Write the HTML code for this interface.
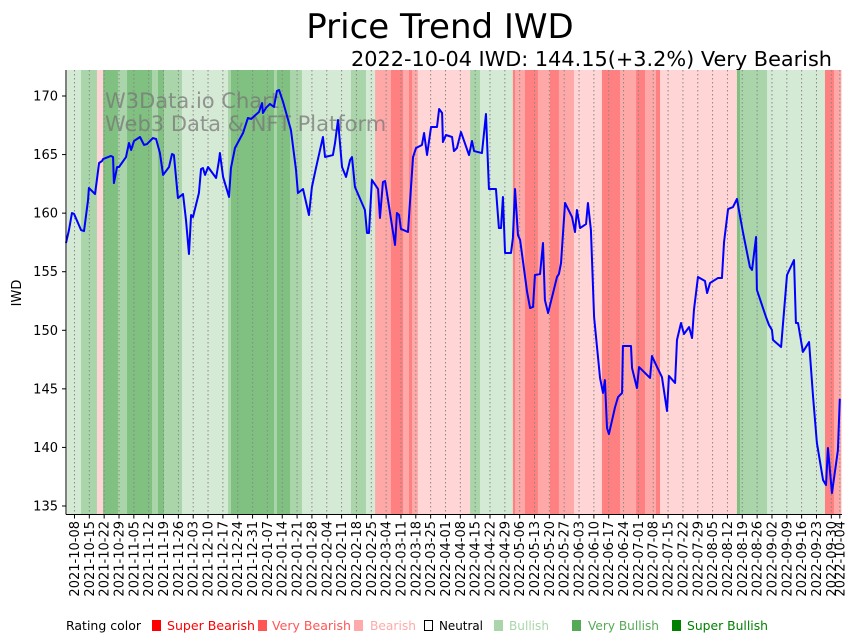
<!DOCTYPE html>
<html><head><meta charset="utf-8"><style>
html,body{margin:0;padding:0;background:#fff;}
svg{display:block;font-family:"DejaVu Sans","Liberation Sans",sans-serif;}
</style></head><body>
<svg id="chart" width="860" height="641" viewBox="0 0 860 641" xmlns="http://www.w3.org/2000/svg">
<text x="440" y="38" font-size="34" text-anchor="middle" fill="#000">Price Trend IWD</text>
<text x="832" y="66" font-size="20" text-anchor="end" fill="#000" textLength="481" lengthAdjust="spacingAndGlyphs">2022-10-04 IWD: 144.15(+3.2%) Very Bearish</text>
<g id="bands"></g>
<g id="grid"></g>
<text x="105" y="108" font-size="21" fill="#777" fill-opacity="0.75">W3Data.io Chart</text>
<text x="105" y="131" font-size="21" fill="#777" fill-opacity="0.75">Web3 Data &amp; NFT Platform</text>
<path id="line" fill="none" stroke="#0000ff" stroke-width="2" stroke-linejoin="round"/>
<line x1="66" y1="70" x2="66" y2="514.5" stroke="#000" stroke-width="1"/>
<line x1="66" y1="514.5" x2="842" y2="514.5" stroke="#000" stroke-width="1"/>
<g id="yticks"></g>
<g id="xticks"></g>
<text transform="translate(21,293) rotate(-90)" font-size="13" text-anchor="middle">IWD</text>
<g font-size="12.5">
<text x="66" y="630" fill="#000" textLength="75" lengthAdjust="spacingAndGlyphs">Rating color</text>
<rect x="152" y="620" width="9" height="11" fill="#ff0000"/>
<text x="167" y="630" fill="#ff0000" textLength="88" lengthAdjust="spacingAndGlyphs">Super Bearish</text>
<rect x="258" y="620" width="9" height="11" fill="#ff5555"/>
<text x="272" y="630" fill="#ff5555" textLength="79" lengthAdjust="spacingAndGlyphs">Very Bearish</text>
<rect x="354" y="620" width="9" height="11" fill="#ffaaaa"/>
<text x="370" y="630" fill="#ffaaaa" textLength="46" lengthAdjust="spacingAndGlyphs">Bearish</text>
<rect x="424.5" y="620.5" width="8" height="10" fill="#fff" stroke="#000"/>
<text x="439" y="630" fill="#000" textLength="44" lengthAdjust="spacingAndGlyphs">Neutral</text>
<rect x="494" y="620" width="9" height="11" fill="#aad5aa"/>
<text x="509" y="630" fill="#aad5aa" textLength="40" lengthAdjust="spacingAndGlyphs">Bullish</text>
<rect x="572" y="620" width="9" height="11" fill="#55aa55"/>
<text x="588" y="630" fill="#55aa55" textLength="71" lengthAdjust="spacingAndGlyphs">Very Bullish</text>
<rect x="672" y="620" width="9" height="11" fill="#008000"/>
<text x="687" y="630" fill="#008000" textLength="81" lengthAdjust="spacingAndGlyphs">Super Bullish</text>
</g>
</svg>
<script>
// day offsets from 2021-10-04
const priceDays = [0,1.4,2.8,3.8,7.1,8.5,10.4,10.8,13.7,15.6,17.0,17.5,21.2,22.2,22.6,24.1,25.0,28.3,29.7,30.7,32.1,34.9,36.8,38.2,41.0,42.5,44.3,45.8,48.6,50.0,50.9,52.8,55.2,56.6,58.0,59.0,59.9,62.7,63.7,64.6,65.6,67.0,70.8,72.2,72.6,74.1,76.9,77.8,79.7,83.5,85.8,87.3,91.0,92.5,92.9,94.3,96.2,98.1,99.5,100.5,102.4,106.1,108.5,109.4,111.8,114.6,116.0,117.9,121.2,122.2,125.9,126.9,128.3,130.2,132.1,134.0,134.9,136.3,141.0,142.0,142.9,144.3,147.2,148.1,149.5,150.5,155.2,156.1,157.1,158.0,161.3,163.7,165.1,167.9,168.9,170.3,172.2,175.0,176.0,177.4,177.8,179.2,182.1,183.0,184.4,186.3,190.1,191.5,192.5,196.2,198.1,199.5,202.8,204.2,205.2,206.1,207.1,209.9,210.8,211.8,213.2,214.2,217.5,218.9,220.3,221.2,223.6,225.0,225.9,227.4,231.6,232.5,233.5,235.4,238.7,240.1,241.0,242.5,245.3,246.2,247.6,249.1,251.9,253.3,254.2,255.2,256.1,259.0,260.4,262.3,262.7,266.5,267.0,269.3,270.3,275.5,276.4,278.8,281.1,283.5,284.4,287.3,288.2,290.1,291.5,293.9,295.3,296.2,298.1,301.4,302.4,303.8,307.5,309.4,310.4,312.3,314.6,316.5,317.5,319.3,322.6,323.6,325.5,325.9,330.2,331.6,333.0,333.5,337.3,340.1,343.4,344.3,345.3,347.6,350.5,352.4,354.2,357.1,358.5,359.4,361.3,364.1,365];
const priceValues = [157.45,158.56,160.01,159.93,158.56,158.47,161.12,162.15,161.63,164.28,164.45,164.62,164.88,164.79,162.57,163.94,163.94,164.79,165.99,165.39,166.16,166.50,165.82,165.90,166.41,166.33,165.13,163.26,163.94,165.05,164.96,161.29,161.63,159.41,156.51,159.84,159.67,161.72,163.77,163.85,163.26,163.94,163.00,164.54,165.13,163.09,161.38,163.85,165.56,166.84,168.12,168.04,168.63,169.40,168.55,168.98,169.32,169.06,170.43,170.51,169.49,167.10,163.68,161.72,162.06,159.84,162.23,163.85,166.50,164.79,164.96,165.99,167.95,163.94,163.09,164.54,164.79,162.23,160.27,158.30,158.30,162.83,162.06,159.59,162.66,162.74,157.28,160.01,159.84,158.65,158.39,164.79,165.56,165.82,166.84,164.96,167.35,167.35,168.89,168.55,166.07,166.67,166.50,165.30,165.56,166.93,164.96,166.16,165.30,165.13,168.46,162.06,162.06,158.73,158.73,161.38,156.60,156.60,157.88,162.06,158.13,157.71,153.27,151.90,151.99,154.72,154.80,157.45,152.58,151.47,154.55,154.80,155.74,160.87,159.67,158.39,160.27,158.73,159.07,160.87,158.56,151.13,145.93,144.65,145.75,141.66,141.14,143.45,144.30,144.65,148.66,148.66,146.78,145.07,146.86,145.93,147.80,146.86,146.01,143.11,146.10,145.50,149.17,150.62,149.68,150.28,149.34,151.73,154.55,154.21,153.18,154.04,154.46,154.46,157.54,160.35,160.52,161.21,160.18,158.39,155.40,155.15,157.96,153.44,151.13,150.45,150.02,149.17,148.57,154.72,156.00,150.62,150.62,148.15,149.00,144.30,140.38,137.22,136.79,139.95,136.11,139.75,144.15];
const bandStarts = [0.5,7.1,14.6,17.5,24.5,28.8,40.6,43.4,46.2,54.7,76.4,77.8,98.1,99.5,105.7,111.3,134.4,141.5,145.8,153.3,159.0,161.8,163.2,166.0,190.6,195.3,210.8,211.8,216.5,222.6,228.3,232.5,239.6,252.8,261.3,268.9,273.1,278.3,280.2,316.5,317.9,330.7,358.0,362.3];
const bandEnds = [7.1,14.6,17.5,24.5,28.8,40.6,43.4,46.2,54.7,76.4,77.8,98.1,99.5,105.7,111.3,134.4,141.5,145.8,153.3,159.0,161.8,163.2,166.0,190.6,195.3,210.8,211.8,216.5,222.6,228.3,232.5,239.6,252.8,261.3,268.9,273.1,278.3,280.2,316.5,317.9,330.7,358.0,362.3,365.6];
const bandRatings = [1,2,-1,3,2,3,2,3,2,1,2,3,2,3,2,1,2,1,-2,-3,-2,-3,-2,-1,2,1,-3,-2,-3,-2,-3,-2,-1,-3,-2,-3,-2,-3,-1,3,2,1,-3,-2];
const xTickLabels = ["2021-10-08","2021-10-15","2021-10-22","2021-10-29","2021-11-05","2021-11-12","2021-11-19","2021-11-26","2021-12-03","2021-12-10","2021-12-17","2021-12-24","2021-12-31","2022-01-07","2022-01-14","2022-01-21","2022-01-28","2022-02-04","2022-02-11","2022-02-18","2022-02-25","2022-03-04","2022-03-11","2022-03-18","2022-03-25","2022-04-01","2022-04-08","2022-04-15","2022-04-22","2022-04-29","2022-05-06","2022-05-13","2022-05-20","2022-05-27","2022-06-03","2022-06-10","2022-06-17","2022-06-24","2022-07-01","2022-07-08","2022-07-15","2022-07-22","2022-07-29","2022-08-05","2022-08-12","2022-08-19","2022-08-26","2022-09-02","2022-09-09","2022-09-16","2022-09-23","2022-09-30","2022-10-04"];
const yTickValues = [135,140,145,150,155,160,165,170];

const NS = "http://www.w3.org/2000/svg";
const startMs = Date.UTC(2021,9,4);
function xScale(d){ return 66 + d*2.12; }
function yScale(v){ return 96 + (170 - v)*11.714; }
function dayOf(s){ const p=s.split("-"); return (Date.UTC(+p[0],+p[1]-1,+p[2])-startMs)/86400000; }
const ratingColors = {"-3":"#ff8080","-2":"#ffa8a8","-1":"#ffd5d5","1":"#d5ead5","2":"#aad5aa","3":"#80c080"};

const bandsG = document.getElementById("bands");
for(let i=0;i<bandStarts.length;i++){
  const r=document.createElementNS(NS,"rect");
  const x0=xScale(bandStarts[i]), x1=xScale(bandEnds[i]);
  r.setAttribute("x",x0); r.setAttribute("y",70);
  r.setAttribute("width",Math.max(0,x1-x0)+0.3); r.setAttribute("height",444);
  r.setAttribute("fill",ratingColors[String(bandRatings[i])]);
  
  
  bandsG.appendChild(r);
}
const gridG=document.getElementById("grid"), xtG=document.getElementById("xticks");
xTickLabels.forEach(lbl=>{
  const x=xScale(dayOf(lbl));
  const g=document.createElementNS(NS,"line");
  g.setAttribute("x1",x);g.setAttribute("x2",x);g.setAttribute("y1",70);g.setAttribute("y2",514);
  g.setAttribute("stroke","#888");g.setAttribute("stroke-width","1");g.setAttribute("stroke-dasharray","1.5,2.5");
  
  
  gridG.appendChild(g);
  const t=document.createElementNS(NS,"line");
  t.setAttribute("x1",x);t.setAttribute("x2",x);t.setAttribute("y1",514.5);t.setAttribute("y2",518.5);t.setAttribute("stroke","#000");
  
  
  xtG.appendChild(t);
  const tx=document.createElementNS(NS,"text");
  tx.setAttribute("transform","translate("+(x+4.5)+",521) rotate(-90)");
  tx.setAttribute("text-anchor","end"); tx.setAttribute("font-size","13");
  tx.textContent=lbl;
  
  
  xtG.appendChild(tx);
});
const ytG=document.getElementById("yticks");
yTickValues.forEach(v=>{
  const y=yScale(v);
  const t=document.createElementNS(NS,"line");
  t.setAttribute("x1",62);t.setAttribute("x2",66);t.setAttribute("y1",y);t.setAttribute("y2",y);t.setAttribute("stroke","#000");
  
  
  ytG.appendChild(t);
  const tx=document.createElementNS(NS,"text");
  tx.setAttribute("x",58);tx.setAttribute("y",y+4.5);tx.setAttribute("text-anchor","end");tx.setAttribute("font-size","13");
  tx.textContent=v;
  
  
  ytG.appendChild(tx);
});
let d="";
for(let i=0;i<priceDays.length;i++){ d+=(i?"L":"M")+xScale(priceDays[i]).toFixed(2)+","+yScale(priceValues[i]).toFixed(2); }
document.getElementById("line").setAttribute("d",d);
</script>
</body></html>
